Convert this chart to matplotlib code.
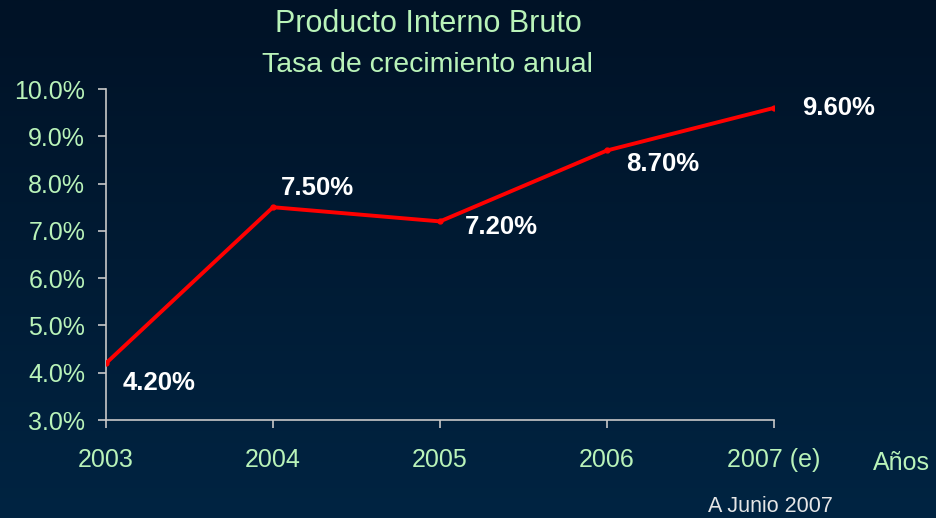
import numpy as np
import matplotlib.pyplot as plt
from matplotlib.colors import LinearSegmentedColormap

plt.rcParams['font.family'] = ['Liberation Sans', 'DejaVu Sans']

years = ['2003', '2004', '2005', '2006', '2007 (e)']
growth = [4.2, 7.5, 7.2, 8.7, 9.6]
point_labels = ['4.20%', '7.50%', '7.20%', '8.70%', '9.60%']
yticks = [3, 4, 5, 6, 7, 8, 9, 10]

green = '#b9f3b9'
axis_col = '#c8c8c8'

fig = plt.figure(figsize=(9.36, 5.18), dpi=100)

# background gradient
bg = fig.add_axes([0, 0, 1, 1], zorder=-1)
cmap = LinearSegmentedColormap.from_list('bg', ['#001226', '#002442'])
bg.imshow(np.linspace(0, 1, 256).reshape(-1, 1), aspect='auto', cmap=cmap,
          extent=[0, 1, 0, 1])
bg.axis('off')

ax = fig.add_axes([106/936, 1 - 420/518, (774 - 106)/936, (420 - 89)/518])
ax.patch.set_alpha(0)

x = np.arange(len(years))
ax.plot(x, growth, color='#ff0000', linewidth=2.8, marker='o', markersize=3.5,
        solid_capstyle='round', zorder=3)

# label offsets in points
offsets = [(12, -14), (6, 14), (18, -4), (14, -10), (20, 0)]
for xi, yi, lab, off in zip(x, growth, point_labels, offsets):
    ax.annotate(lab, (xi, yi), xytext=off, textcoords='offset points',
                ha='left', va='center', color='white', fontsize=18.5,
                fontweight='bold')

ax.set_xlim(0, len(years) - 1)
ax.set_ylim(3, 10)
ax.set_yticks(yticks)
ax.set_yticklabels([f'{v:.1f}%' for v in yticks])
ax.set_xticks(x)
ax.set_xticklabels(years)

for s in ['top', 'right']:
    ax.spines[s].set_visible(False)
for s in ['left', 'bottom']:
    ax.spines[s].set_color(axis_col)
    ax.spines[s].set_linewidth(1.2)

ax.tick_params(axis='y', direction='out', length=6, width=1.2, color=axis_col,
               labelcolor=green, labelsize=18, pad=9)
ax.tick_params(axis='x', direction='out', length=6, width=1.2, color=axis_col,
               labelcolor=green, labelsize=18, pad=14)

fig.text(428/936, 1 - 24/518, 'Producto Interno Bruto', ha='center',
         va='center', color=green, fontsize=22)
fig.text(427/936, 1 - 65/518, 'Tasa de crecimiento anual', ha='center',
         va='center', color=green, fontsize=20.5)
fig.text(901/936, 1 - 463/518, 'Años', ha='center', va='center',
         color=green, fontsize=18)
fig.text(770/936, 1 - 506/518, 'A Junio 2007', ha='center', va='center',
         color='#e6e6e6', fontsize=15.5)

fig.savefig('out.png', dpi=100)
